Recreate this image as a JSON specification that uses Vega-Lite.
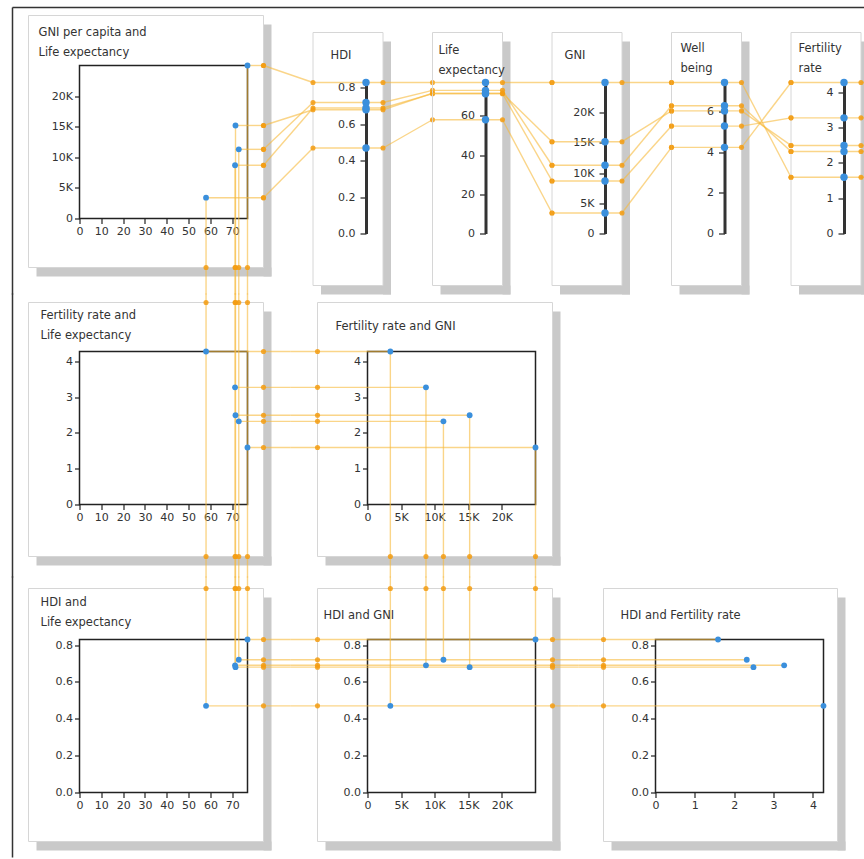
{
"$schema": "https://vega.github.io/schema/vega-lite/v6.json",
"background": "white",
"padding": {"left": 10.5, "top": 5.5, "right": 0, "bottom": 0},
"datasets": {"countries": [
 {"country": "A", "LE": 58, "GNI": 3400, "HDI": 0.47, "Fertility": 4.27, "Wellbeing": 4.25},
 {"country": "B", "LE": 71.3, "GNI": 8700, "HDI": 0.69, "Fertility": 3.27, "Wellbeing": 5.3},
 {"country": "C", "LE": 73, "GNI": 11300, "HDI": 0.72, "Fertility": 2.32, "Wellbeing": 6.3},
 {"country": "D", "LE": 71.5, "GNI": 15200, "HDI": 0.68, "Fertility": 2.49, "Wellbeing": 6.05},
 {"country": "E", "LE": 77, "GNI": 25000, "HDI": 0.83, "Fertility": 1.59, "Wellbeing": 7.45}
]},
"spacing": -5,
"bounds": "full",
"vconcat": [
{"hconcat": [
 {"width": 168, "height": 153, "view": {"stroke": "#222", "strokeWidth": 1.5},
  "title": {"text": ["GNI per capita and", "Life expectancy"], "dx": -41, "offset": -52},
  "data": {"name": "countries"},
  "layer": [
   {"data": {"values": [{}]}, "mark": {"type": "rect", "color": "#c9c9c9", "x2Offset": 8, "yOffset": 9, "y2Offset": 9, "clip": false},
    "encoding": {"x": {"datum": 84.333, "type": "quantitative", "axis": {"values": [0, 10, 20, 30, 40, 50, 60, 70], "tickCount": 8, "title": null}}, "x2": {"datum": 84.333}, "y": {"datum": 33170, "type": "quantitative", "axis": {"values": [0, 5000, 10000, 15000, 20000], "tickCount": 6, "title": null, "labelExpr": "datum.value == 0 ? '0' : format(datum.value / 1000, 'd') + 'K'"}}, "y2": {"datum": -8007}}},
   {"data": {"values": [{}]}, "mark": {"type": "rect", "color": "#c9c9c9", "xOffset": 8, "x2Offset": 8, "y2Offset": 9, "clip": false},
    "encoding": {"x": {"datum": -23.375, "type": "quantitative"}, "x2": {"datum": 84.333}, "y": {"datum": -8007, "type": "quantitative"}, "y2": {"datum": -8007}}},
   {"data": {"values": [{}]}, "mark": {"type": "rect", "filled": false, "color": "#d6d6d6", "strokeWidth": 1, "clip": false},
    "encoding": {"x": {"datum": -23.375, "type": "quantitative"}, "x2": {"datum": 84.333}, "y": {"datum": 33170, "type": "quantitative"}, "y2": {"datum": -8007}}},
   {"data": {"values": [{}]}, "mark": {"type": "rule", "color": "#333", "strokeWidth": 1.5, "clip": false},
    "encoding": {"x": {"datum": -30.708, "type": "quantitative"}, "y": {"datum": 34477, "type": "quantitative"}, "y2": {"datum": -12418}}},
   {"data": {"values": [{}]}, "mark": {"type": "rule", "color": "#333", "strokeWidth": 1.5, "clip": false},
    "encoding": {"x": {"datum": -30.708, "type": "quantitative"}, "x2": {"datum": 362.5}, "y": {"datum": 34477, "type": "quantitative"}}},
   {"mark": {"type": "rule", "color": "#f6b93b", "strokeWidth": 1.4, "opacity": 0.6, "clip": false},
    "encoding": {"x": {"field": "LE", "type": "quantitative"}, "y": {"field": "GNI", "type": "quantitative"}, "y2": {"datum": -12418}}},
   {"mark": {"type": "rule", "color": "#f6b93b", "strokeWidth": 1.4, "opacity": 0.6, "clip": false},
    "encoding": {"x": {"field": "LE", "type": "quantitative"}, "x2": {"datum": 84.333}, "y": {"field": "GNI", "type": "quantitative"}}},
   {"mark": {"type": "circle", "color": "#f39c12", "size": 26, "opacity": 0.85, "clip": false},
    "encoding": {"x": {"datum": 84.333, "type": "quantitative"}, "y": {"field": "GNI", "type": "quantitative"}}},
   {"mark": {"type": "circle", "color": "#f39c12", "size": 26, "opacity": 0.85, "clip": false},
    "encoding": {"x": {"field": "LE", "type": "quantitative"}, "y": {"datum": -8007, "type": "quantitative"}}},
   {"mark": {"type": "circle", "color": "#3a8fdc", "size": 34, "opacity": 1, "clip": false},
    "encoding": {
     "x": {"field": "LE", "type": "quantitative", "scale": {"domain": [0, 77], "nice": false}, "axis": {"values": [0, 10, 20, 30, 40, 50, 60, 70], "tickCount": 8, "title": null}},
     "y": {"field": "GNI", "type": "quantitative", "scale": {"domain": [0, 25000], "nice": false}, "axis": {"values": [0, 5000, 10000, 15000, 20000], "tickCount": 6, "title": null, "labelExpr": "datum.value == 0 ? '0' : format(datum.value / 1000, 'd') + 'K'"}}}}
  ]},
 {"width": 1, "height": 168, "data": {"name": "countries"},
  "transform": [
   {"joinaggregate": [{"op": "max", "field": "HDI", "as": "maxHDI"}, {"op": "max", "field": "LE", "as": "maxLE"}, {"op": "max", "field": "GNI", "as": "maxGNI"}]},
   {"calculate": "datum.LE / datum.maxLE * datum.maxHDI", "as": "LEinHDI"},
   {"calculate": "(15 + 153 * datum.GNI / datum.maxGNI) / 151 * datum.maxHDI", "as": "GNIinHDI"}
  ],
  "title": {"text": "HDI", "dx": -35.5, "offset": -29.5},
  "layer": [
   {"data": {"values": [{}]}, "mark": {"type": "rect", "color": "#c9c9c9", "x2Offset": 8, "yOffset": 9, "y2Offset": 9, "clip": false},
    "encoding": {"x": {"datum": 17, "type": "quantitative", "axis": null}, "x2": {"datum": 17}, "y": {"datum": 1.10484, "type": "quantitative", "axis": {"values": [0, 0.2, 0.4, 0.6, 0.8], "tickCount": 5, "format": ".1f", "title": null, "domain": true, "domainWidth": 3, "domainColor": "#333", "tickSize": 6, "labelPadding": 5}}, "y2": {"datum": -0.28583}}},
   {"data": {"values": [{}]}, "mark": {"type": "rect", "color": "#c9c9c9", "xOffset": 8, "x2Offset": 8, "y2Offset": 9, "clip": false},
    "encoding": {"x": {"datum": -53, "type": "quantitative", "axis": null}, "x2": {"datum": 17}, "y": {"datum": -0.28583, "type": "quantitative"}, "y2": {"datum": -0.28583}}},
   {"data": {"values": [{}]}, "mark": {"type": "rect", "filled": false, "color": "#d6d6d6", "strokeWidth": 1, "clip": false},
    "encoding": {"x": {"datum": -53, "type": "quantitative", "axis": null}, "x2": {"datum": 17}, "y": {"datum": 1.10484, "type": "quantitative"}, "y2": {"datum": -0.28583}}},
   {"mark": {"type": "rule", "color": "#f6b93b", "strokeWidth": 1.4, "opacity": 0.6, "clip": false},
    "encoding": {"x": {"datum": -53, "type": "quantitative", "axis": null}, "x2": {"datum": 17}, "y": {"field": "HDI", "type": "quantitative"}}},
   {"mark": {"type": "rule", "color": "#f6b93b", "strokeWidth": 1.4, "opacity": 0.6, "clip": false},
    "encoding": {"x": {"datum": 17, "type": "quantitative", "axis": null}, "x2": {"datum": 66.5}, "y": {"field": "HDI", "type": "quantitative"}, "y2": {"field": "LEinHDI"}}},
   {"mark": {"type": "rule", "color": "#f6b93b", "strokeWidth": 1.4, "opacity": 0.6, "clip": false},
    "encoding": {"x": {"datum": -102.5, "type": "quantitative", "axis": null}, "x2": {"datum": -53}, "y": {"field": "GNIinHDI", "type": "quantitative"}, "y2": {"field": "HDI"}}},
   {"mark": {"type": "circle", "color": "#f39c12", "size": 26, "opacity": 0.85, "clip": false},
    "encoding": {"x": {"datum": 17, "type": "quantitative", "axis": null}, "y": {"field": "HDI", "type": "quantitative"}}},
   {"mark": {"type": "circle", "color": "#f39c12", "size": 26, "opacity": 0.85, "clip": false},
    "encoding": {"x": {"datum": -53, "type": "quantitative", "axis": null}, "y": {"field": "HDI", "type": "quantitative"}}},
   {"mark": {"type": "circle", "color": "#f39c12", "size": 26, "opacity": 0.85, "clip": false},
    "encoding": {"x": {"datum": 66.5, "type": "quantitative", "axis": null}, "y": {"field": "LEinHDI", "type": "quantitative"}}},
   {"mark": {"type": "circle", "color": "#f39c12", "size": 26, "opacity": 0.85, "clip": false},
    "encoding": {"x": {"datum": -102.5, "type": "quantitative", "axis": null}, "y": {"field": "GNIinHDI", "type": "quantitative"}}},
   {"mark": {"type": "circle", "color": "#3a8fdc", "size": 55, "opacity": 1, "clip": false},
    "encoding": {
     "x": {"datum": 0, "type": "quantitative", "scale": {"domain": [0, 1]}, "axis": null},
     "y": {"field": "HDI", "type": "quantitative", "scale": {"domain": [0, 0.83], "range": [168, 17], "nice": false}, "axis": {"values": [0, 0.2, 0.4, 0.6, 0.8], "tickCount": 5, "format": ".1f", "title": null, "domain": true, "domainWidth": 3, "domainColor": "#333", "tickSize": 6, "labelPadding": 5}}}}
  ]},
 {"width": 1, "height": 168, "data": {"name": "countries"},
  "transform": [
   {"joinaggregate": [{"op": "max", "field": "LE", "as": "maxLE"}, {"op": "max", "field": "GNI", "as": "maxGNI"}]},
   {"calculate": "datum.GNI / datum.maxGNI * datum.maxLE", "as": "GNIinLE"}
  ],
  "title": {"text": ["Life", "expectancy"], "dx": -47, "offset": -44.5},
  "layer": [
   {"data": {"values": [{}]}, "mark": {"type": "rect", "color": "#c9c9c9", "x2Offset": 8, "yOffset": 9, "y2Offset": 9, "clip": false},
    "encoding": {"x": {"datum": 17, "type": "quantitative", "axis": null}, "x2": {"datum": 17}, "y": {"datum": 102.497, "type": "quantitative", "axis": {"values": [0, 20, 40, 60], "tickCount": 4, "title": null, "domain": true, "domainWidth": 3, "domainColor": "#333", "tickSize": 6, "labelPadding": 5}}, "y2": {"datum": -26.517}}},
   {"data": {"values": [{}]}, "mark": {"type": "rect", "color": "#c9c9c9", "xOffset": 8, "x2Offset": 8, "y2Offset": 9, "clip": false},
    "encoding": {"x": {"datum": -53, "type": "quantitative", "axis": null}, "x2": {"datum": 17}, "y": {"datum": -26.517, "type": "quantitative"}, "y2": {"datum": -26.517}}},
   {"data": {"values": [{}]}, "mark": {"type": "rect", "filled": false, "color": "#d6d6d6", "strokeWidth": 1, "clip": false},
    "encoding": {"x": {"datum": -53, "type": "quantitative", "axis": null}, "x2": {"datum": 17}, "y": {"datum": 102.497, "type": "quantitative"}, "y2": {"datum": -26.517}}},
   {"mark": {"type": "rule", "color": "#f6b93b", "strokeWidth": 1.4, "opacity": 0.6, "clip": false},
    "encoding": {"x": {"datum": -53, "type": "quantitative", "axis": null}, "x2": {"datum": 17}, "y": {"field": "LE", "type": "quantitative"}}},
   {"mark": {"type": "rule", "color": "#f6b93b", "strokeWidth": 1.4, "opacity": 0.6, "clip": false},
    "encoding": {"x": {"datum": 17, "type": "quantitative", "axis": null}, "x2": {"datum": 66.5}, "y": {"field": "LE", "type": "quantitative"}, "y2": {"field": "GNIinLE"}}},
   {"mark": {"type": "circle", "color": "#f39c12", "size": 26, "opacity": 0.85, "clip": false},
    "encoding": {"x": {"datum": 17, "type": "quantitative", "axis": null}, "y": {"field": "LE", "type": "quantitative"}}},
   {"mark": {"type": "circle", "color": "#f39c12", "size": 26, "opacity": 0.85, "clip": false},
    "encoding": {"x": {"datum": 66.5, "type": "quantitative", "axis": null}, "y": {"field": "GNIinLE", "type": "quantitative"}}},
   {"mark": {"type": "circle", "color": "#3a8fdc", "size": 55, "opacity": 1, "clip": false},
    "encoding": {
     "x": {"datum": 0, "type": "quantitative", "scale": {"domain": [0, 1]}, "axis": null},
     "y": {"field": "LE", "type": "quantitative", "scale": {"domain": [0, 77], "range": [168, 17], "nice": false}, "axis": {"values": [0, 20, 40, 60], "tickCount": 4, "title": null, "domain": true, "domainWidth": 3, "domainColor": "#333", "tickSize": 6, "labelPadding": 5}}}}
  ]},
 {"width": 1, "height": 168, "data": {"name": "countries"},
  "transform": [
   {"joinaggregate": [{"op": "max", "field": "GNI", "as": "maxGNI"}, {"op": "max", "field": "Wellbeing", "as": "maxWB"}]},
   {"calculate": "datum.Wellbeing / datum.maxWB * datum.maxGNI", "as": "WBinGNI"}
  ],
  "title": {"text": "GNI", "dx": -40.5, "offset": -29.5},
  "layer": [
   {"data": {"values": [{}]}, "mark": {"type": "rect", "color": "#c9c9c9", "x2Offset": 8, "yOffset": 9, "y2Offset": 9, "clip": false},
    "encoding": {"x": {"datum": 17, "type": "quantitative", "axis": null}, "x2": {"datum": 17}, "y": {"datum": 33278, "type": "quantitative", "axis": {"values": [0, 5000, 10000, 15000, 20000], "tickCount": 6, "labelExpr": "datum.value == 0 ? '0' : format(datum.value / 1000, 'd') + 'K'", "title": null, "domain": true, "domainWidth": 3, "domainColor": "#333", "tickSize": 6, "labelPadding": 5}}, "y2": {"datum": -8609}}},
   {"data": {"values": [{}]}, "mark": {"type": "rect", "color": "#c9c9c9", "xOffset": 8, "x2Offset": 8, "y2Offset": 9, "clip": false},
    "encoding": {"x": {"datum": -53, "type": "quantitative", "axis": null}, "x2": {"datum": 17}, "y": {"datum": -8609, "type": "quantitative"}, "y2": {"datum": -8609}}},
   {"data": {"values": [{}]}, "mark": {"type": "rect", "filled": false, "color": "#d6d6d6", "strokeWidth": 1, "clip": false},
    "encoding": {"x": {"datum": -53, "type": "quantitative", "axis": null}, "x2": {"datum": 17}, "y": {"datum": 33278, "type": "quantitative"}, "y2": {"datum": -8609}}},
   {"mark": {"type": "rule", "color": "#f6b93b", "strokeWidth": 1.4, "opacity": 0.6, "clip": false},
    "encoding": {"x": {"datum": -53, "type": "quantitative", "axis": null}, "x2": {"datum": 17}, "y": {"field": "GNI", "type": "quantitative"}}},
   {"mark": {"type": "rule", "color": "#f6b93b", "strokeWidth": 1.4, "opacity": 0.6, "clip": false},
    "encoding": {"x": {"datum": 17, "type": "quantitative", "axis": null}, "x2": {"datum": 66.5}, "y": {"field": "GNI", "type": "quantitative"}, "y2": {"field": "WBinGNI"}}},
   {"mark": {"type": "circle", "color": "#f39c12", "size": 26, "opacity": 0.85, "clip": false},
    "encoding": {"x": {"datum": 17, "type": "quantitative", "axis": null}, "y": {"field": "GNI", "type": "quantitative"}}},
   {"mark": {"type": "circle", "color": "#f39c12", "size": 26, "opacity": 0.85, "clip": false},
    "encoding": {"x": {"datum": -53, "type": "quantitative", "axis": null}, "y": {"field": "GNI", "type": "quantitative"}}},
   {"mark": {"type": "circle", "color": "#f39c12", "size": 26, "opacity": 0.85, "clip": false},
    "encoding": {"x": {"datum": 66.5, "type": "quantitative", "axis": null}, "y": {"field": "WBinGNI", "type": "quantitative"}}},
   {"mark": {"type": "circle", "color": "#3a8fdc", "size": 55, "opacity": 1, "clip": false},
    "encoding": {
     "x": {"datum": 0, "type": "quantitative", "scale": {"domain": [0, 1]}, "axis": null},
     "y": {"field": "GNI", "type": "quantitative", "scale": {"domain": [0, 25000], "range": [168, 17], "nice": false}, "axis": {"values": [0, 5000, 10000, 15000, 20000], "tickCount": 6, "labelExpr": "datum.value == 0 ? '0' : format(datum.value / 1000, 'd') + 'K'", "title": null, "domain": true, "domainWidth": 3, "domainColor": "#333", "tickSize": 6, "labelPadding": 5}}}}
  ]},
 {"width": 1, "height": 168, "data": {"name": "countries"},
  "transform": [
   {"joinaggregate": [{"op": "max", "field": "Wellbeing", "as": "maxWB"}, {"op": "max", "field": "Fertility", "as": "maxFert"}]},
   {"calculate": "datum.Fertility / datum.maxFert * datum.maxWB", "as": "FertinWB"}
  ],
  "title": {"text": ["Well", "being"], "dx": -44, "offset": -42.5},
  "layer": [
   {"data": {"values": [{}]}, "mark": {"type": "rect", "color": "#c9c9c9", "x2Offset": 8, "yOffset": 9, "y2Offset": 9, "clip": false},
    "encoding": {"x": {"datum": 17, "type": "quantitative", "axis": null}, "x2": {"datum": 17}, "y": {"datum": 9.917, "type": "quantitative", "axis": {"values": [0, 2, 4, 6], "tickCount": 4, "title": null, "domain": true, "domainWidth": 3, "domainColor": "#333", "tickSize": 6, "labelPadding": 5}}, "y2": {"datum": -2.5656}}},
   {"data": {"values": [{}]}, "mark": {"type": "rect", "color": "#c9c9c9", "xOffset": 8, "x2Offset": 8, "y2Offset": 9, "clip": false},
    "encoding": {"x": {"datum": -53, "type": "quantitative", "axis": null}, "x2": {"datum": 17}, "y": {"datum": -2.5656, "type": "quantitative"}, "y2": {"datum": -2.5656}}},
   {"data": {"values": [{}]}, "mark": {"type": "rect", "filled": false, "color": "#d6d6d6", "strokeWidth": 1, "clip": false},
    "encoding": {"x": {"datum": -53, "type": "quantitative", "axis": null}, "x2": {"datum": 17}, "y": {"datum": 9.917, "type": "quantitative"}, "y2": {"datum": -2.5656}}},
   {"mark": {"type": "rule", "color": "#f6b93b", "strokeWidth": 1.4, "opacity": 0.6, "clip": false},
    "encoding": {"x": {"datum": -53, "type": "quantitative", "axis": null}, "x2": {"datum": 17}, "y": {"field": "Wellbeing", "type": "quantitative"}}},
   {"mark": {"type": "rule", "color": "#f6b93b", "strokeWidth": 1.4, "opacity": 0.6, "clip": false},
    "encoding": {"x": {"datum": 17, "type": "quantitative", "axis": null}, "x2": {"datum": 66.5}, "y": {"field": "Wellbeing", "type": "quantitative"}, "y2": {"field": "FertinWB"}}},
   {"mark": {"type": "circle", "color": "#f39c12", "size": 26, "opacity": 0.85, "clip": false},
    "encoding": {"x": {"datum": 17, "type": "quantitative", "axis": null}, "y": {"field": "Wellbeing", "type": "quantitative"}}},
   {"mark": {"type": "circle", "color": "#f39c12", "size": 26, "opacity": 0.85, "clip": false},
    "encoding": {"x": {"datum": -53, "type": "quantitative", "axis": null}, "y": {"field": "Wellbeing", "type": "quantitative"}}},
   {"mark": {"type": "circle", "color": "#f39c12", "size": 26, "opacity": 0.85, "clip": false},
    "encoding": {"x": {"datum": 66.5, "type": "quantitative", "axis": null}, "y": {"field": "FertinWB", "type": "quantitative"}}},
   {"mark": {"type": "circle", "color": "#3a8fdc", "size": 55, "opacity": 1, "clip": false},
    "encoding": {
     "x": {"datum": 0, "type": "quantitative", "scale": {"domain": [0, 1]}, "axis": null},
     "y": {"field": "Wellbeing", "type": "quantitative", "scale": {"domain": [0, 7.45], "range": [168, 17], "nice": false}, "axis": {"values": [0, 2, 4, 6], "tickCount": 4, "title": null, "domain": true, "domainWidth": 3, "domainColor": "#333", "tickSize": 6, "labelPadding": 5}}}}
  ]},
 {"width": 1, "height": 168, "data": {"name": "countries"},
  "title": {"text": ["Fertility", "rate"], "dx": -45.5, "offset": -42.5},
  "layer": [
   {"data": {"values": [{}]}, "mark": {"type": "rect", "color": "#c9c9c9", "x2Offset": 8, "yOffset": 9, "y2Offset": 9, "clip": false},
    "encoding": {"x": {"datum": 17, "type": "quantitative", "axis": null}, "x2": {"datum": 17}, "y": {"datum": 5.6839, "type": "quantitative", "axis": {"values": [0, 1, 2, 3, 4], "tickCount": 5, "title": null, "domain": true, "domainWidth": 3, "domainColor": "#333", "tickSize": 6, "labelPadding": 5}}, "y2": {"datum": -1.4705}}},
   {"data": {"values": [{}]}, "mark": {"type": "rect", "color": "#c9c9c9", "xOffset": 8, "x2Offset": 8, "y2Offset": 9, "clip": false},
    "encoding": {"x": {"datum": -53, "type": "quantitative", "axis": null}, "x2": {"datum": 17}, "y": {"datum": -1.4705, "type": "quantitative"}, "y2": {"datum": -1.4705}}},
   {"data": {"values": [{}]}, "mark": {"type": "rect", "filled": false, "color": "#d6d6d6", "strokeWidth": 1, "clip": false},
    "encoding": {"x": {"datum": -53, "type": "quantitative", "axis": null}, "x2": {"datum": 17}, "y": {"datum": 5.6839, "type": "quantitative"}, "y2": {"datum": -1.4705}}},
   {"mark": {"type": "rule", "color": "#f6b93b", "strokeWidth": 1.4, "opacity": 0.6, "clip": false},
    "encoding": {"x": {"datum": -53, "type": "quantitative", "axis": null}, "x2": {"datum": 40}, "y": {"field": "Fertility", "type": "quantitative"}}},
   {"mark": {"type": "circle", "color": "#f39c12", "size": 26, "opacity": 0.85, "clip": false},
    "encoding": {"x": {"datum": 17, "type": "quantitative", "axis": null}, "y": {"field": "Fertility", "type": "quantitative"}}},
   {"mark": {"type": "circle", "color": "#f39c12", "size": 26, "opacity": 0.85, "clip": false},
    "encoding": {"x": {"datum": -53, "type": "quantitative", "axis": null}, "y": {"field": "Fertility", "type": "quantitative"}}},
   {"mark": {"type": "circle", "color": "#3a8fdc", "size": 55, "opacity": 1, "clip": false},
    "encoding": {
     "x": {"datum": 0, "type": "quantitative", "scale": {"domain": [0, 1]}, "axis": null},
     "y": {"field": "Fertility", "type": "quantitative", "scale": {"domain": [0, 4.27], "range": [168, 17], "nice": false}, "axis": {"values": [0, 1, 2, 3, 4], "tickCount": 5, "title": null, "domain": true, "domainWidth": 3, "domainColor": "#333", "tickSize": 6, "labelPadding": 5}}}}
  ]}
], "spacing": 118.5, "bounds": "flush"},
{"hconcat": [
 {"width": 168, "height": 153, "view": {"stroke": "#222", "strokeWidth": 1.5},
  "title": {"text": ["Fertility rate and", "Life expectancy"], "dx": -39, "offset": -48.7},
  "data": {"name": "countries"},
  "layer": [
   {"data": {"values": [{}]}, "mark": {"type": "rect", "color": "#c9c9c9", "x2Offset": 8, "yOffset": 9, "y2Offset": 9, "clip": false},
    "encoding": {"x": {"datum": 84.333, "type": "quantitative", "axis": {"values": [0, 10, 20, 30, 40, 50, 60, 70], "tickCount": 8, "title": null}}, "x2": {"datum": 84.333}, "y": {"datum": 5.6375, "type": "quantitative", "axis": {"values": [0, 1, 2, 3, 4], "tickCount": 5, "title": null}}, "y2": {"datum": -1.4512}}},
   {"data": {"values": [{}]}, "mark": {"type": "rect", "color": "#c9c9c9", "xOffset": 8, "x2Offset": 8, "y2Offset": 9, "clip": false},
    "encoding": {"x": {"datum": -23.375, "type": "quantitative"}, "x2": {"datum": 84.333}, "y": {"datum": -1.4512, "type": "quantitative"}, "y2": {"datum": -1.4512}}},
   {"data": {"values": [{}]}, "mark": {"type": "rect", "filled": false, "color": "#d6d6d6", "strokeWidth": 1, "clip": false},
    "encoding": {"x": {"datum": -23.375, "type": "quantitative"}, "x2": {"datum": 84.333}, "y": {"datum": 5.6375, "type": "quantitative"}, "y2": {"datum": -1.4512}}},
   {"data": {"values": [{}]}, "mark": {"type": "rule", "color": "#333", "strokeWidth": 1.5, "clip": false},
    "encoding": {"x": {"datum": -30.708, "type": "quantitative"}, "y": {"datum": 5.8887, "type": "quantitative"}, "y2": {"datum": -2.0373}}},
   {"mark": {"type": "rule", "color": "#f6b93b", "strokeWidth": 1.4, "opacity": 0.6, "clip": false},
    "encoding": {"x": {"field": "LE", "type": "quantitative"}, "y": {"datum": 5.8887, "type": "quantitative"}, "y2": {"datum": -2.0373}}},
   {"mark": {"type": "rule", "color": "#f6b93b", "strokeWidth": 1.4, "opacity": 0.6, "clip": false},
    "encoding": {"x": {"field": "LE", "type": "quantitative"}, "x2": {"datum": 96.708}, "y": {"field": "Fertility", "type": "quantitative"}}},
   {"mark": {"type": "circle", "color": "#f39c12", "size": 26, "opacity": 0.85, "clip": false},
    "encoding": {"x": {"datum": 84.333, "type": "quantitative"}, "y": {"field": "Fertility", "type": "quantitative"}}},
   {"mark": {"type": "circle", "color": "#f39c12", "size": 26, "opacity": 0.85, "clip": false},
    "encoding": {"x": {"field": "LE", "type": "quantitative"}, "y": {"datum": 5.6375, "type": "quantitative"}}},
   {"mark": {"type": "circle", "color": "#f39c12", "size": 26, "opacity": 0.85, "clip": false},
    "encoding": {"x": {"field": "LE", "type": "quantitative"}, "y": {"datum": -1.4512, "type": "quantitative"}}},
   {"mark": {"type": "circle", "color": "#3a8fdc", "size": 34, "opacity": 1, "clip": false},
    "encoding": {
     "x": {"field": "LE", "type": "quantitative", "scale": {"domain": [0, 77], "nice": false}, "axis": {"values": [0, 10, 20, 30, 40, 50, 60, 70], "tickCount": 8, "title": null}},
     "y": {"field": "Fertility", "type": "quantitative", "scale": {"domain": [0, 4.27], "nice": false}, "axis": {"values": [0, 1, 2, 3, 4], "tickCount": 5, "title": null}}}}
  ]},
 {"width": 168, "height": 153, "view": {"stroke": "#222", "strokeWidth": 1.5},
  "title": {"text": "Fertility rate and GNI", "dx": -32, "offset": -30.5},
  "data": {"name": "countries"},
  "layer": [
   {"data": {"values": [{}]}, "mark": {"type": "rect", "color": "#c9c9c9", "x2Offset": 8, "yOffset": 9, "y2Offset": 9, "clip": false},
    "encoding": {"x": {"datum": 27530, "type": "quantitative", "axis": {"values": [0, 5000, 10000, 15000, 20000], "tickCount": 6, "labelExpr": "datum.value == 0 ? '0' : format(datum.value / 1000, 'd') + 'K'", "title": null}}, "x2": {"datum": 27530}, "y": {"datum": 5.6375, "type": "quantitative", "axis": {"values": [0, 1, 2, 3, 4], "tickCount": 5, "title": null}}, "y2": {"datum": -1.4512}}},
   {"data": {"values": [{}]}, "mark": {"type": "rect", "color": "#c9c9c9", "xOffset": 8, "x2Offset": 8, "y2Offset": 9, "clip": false},
    "encoding": {"x": {"datum": -7440.5, "type": "quantitative"}, "x2": {"datum": 27530}, "y": {"datum": -1.4512, "type": "quantitative"}, "y2": {"datum": -1.4512}}},
   {"data": {"values": [{}]}, "mark": {"type": "rect", "filled": false, "color": "#d6d6d6", "strokeWidth": 1, "clip": false},
    "encoding": {"x": {"datum": -7440.5, "type": "quantitative"}, "x2": {"datum": 27530}, "y": {"datum": 5.6375, "type": "quantitative"}, "y2": {"datum": -1.4512}}},
   {"mark": {"type": "rule", "color": "#f6b93b", "strokeWidth": 1.4, "opacity": 0.6, "clip": false},
    "encoding": {"x": {"field": "GNI", "type": "quantitative"}, "x2": {"datum": -11458}, "y": {"field": "Fertility", "type": "quantitative"}}},
   {"mark": {"type": "rule", "color": "#f6b93b", "strokeWidth": 1.4, "opacity": 0.6, "clip": false},
    "encoding": {"x": {"field": "GNI", "type": "quantitative"}, "y": {"field": "Fertility", "type": "quantitative"}, "y2": {"datum": -2.0373}}},
   {"mark": {"type": "circle", "color": "#f39c12", "size": 26, "opacity": 0.85, "clip": false},
    "encoding": {"x": {"datum": -7440.5, "type": "quantitative"}, "y": {"field": "Fertility", "type": "quantitative"}}},
   {"mark": {"type": "circle", "color": "#f39c12", "size": 26, "opacity": 0.85, "clip": false},
    "encoding": {"x": {"field": "GNI", "type": "quantitative"}, "y": {"datum": -1.4512, "type": "quantitative"}}},
   {"mark": {"type": "circle", "color": "#3a8fdc", "size": 34, "opacity": 1, "clip": false},
    "encoding": {
     "x": {"field": "GNI", "type": "quantitative", "scale": {"domain": [0, 25000], "nice": false}, "axis": {"values": [0, 5000, 10000, 15000, 20000], "tickCount": 6, "labelExpr": "datum.value == 0 ? '0' : format(datum.value / 1000, 'd') + 'K'", "title": null}},
     "y": {"field": "Fertility", "type": "quantitative", "scale": {"domain": [0, 4.27], "nice": false}, "axis": {"values": [0, 1, 2, 3, 4], "tickCount": 5, "title": null}}}}
  ]}
], "spacing": 120, "bounds": "flush"},
{"hconcat": [
 {"width": 168, "height": 153, "view": {"stroke": "#222", "strokeWidth": 1.5},
  "title": {"text": ["HDI and", "Life expectancy"], "dx": -39, "offset": -52.7},
  "data": {"name": "countries"},
  "layer": [
   {"data": {"values": [{}]}, "mark": {"type": "rect", "color": "#c9c9c9", "x2Offset": 8, "yOffset": 9, "y2Offset": 9, "clip": false},
    "encoding": {"x": {"datum": 84.333, "type": "quantitative", "axis": {"values": [0, 10, 20, 30, 40, 50, 60, 70], "tickCount": 8, "title": null}}, "x2": {"datum": 84.333}, "y": {"datum": 1.10667, "type": "quantitative", "axis": {"values": [0, 0.2, 0.4, 0.6, 0.8], "tickCount": 5, "format": ".1f", "title": null}}, "y2": {"datum": -0.26582}}},
   {"data": {"values": [{}]}, "mark": {"type": "rect", "color": "#c9c9c9", "xOffset": 8, "x2Offset": 8, "y2Offset": 9, "clip": false},
    "encoding": {"x": {"datum": -23.375, "type": "quantitative"}, "x2": {"datum": 84.333}, "y": {"datum": -0.26582, "type": "quantitative"}, "y2": {"datum": -0.26582}}},
   {"data": {"values": [{}]}, "mark": {"type": "rect", "filled": false, "color": "#d6d6d6", "strokeWidth": 1, "clip": false},
    "encoding": {"x": {"datum": -23.375, "type": "quantitative"}, "x2": {"datum": 84.333}, "y": {"datum": 1.10667, "type": "quantitative"}, "y2": {"datum": -0.26582}}},
   {"data": {"values": [{}]}, "mark": {"type": "rule", "color": "#333", "strokeWidth": 1.5, "clip": false},
    "encoding": {"x": {"datum": -30.708, "type": "quantitative"}, "y": {"datum": 1.17177, "type": "quantitative"}, "y2": {"datum": -0.35262}}},
   {"mark": {"type": "rule", "color": "#f6b93b", "strokeWidth": 1.4, "opacity": 0.6, "clip": false},
    "encoding": {"x": {"field": "LE", "type": "quantitative"}, "y": {"field": "HDI", "type": "quantitative"}, "y2": {"datum": 1.17177}}},
   {"mark": {"type": "rule", "color": "#f6b93b", "strokeWidth": 1.4, "opacity": 0.6, "clip": false},
    "encoding": {"x": {"field": "LE", "type": "quantitative"}, "x2": {"datum": 96.708}, "y": {"field": "HDI", "type": "quantitative"}}},
   {"mark": {"type": "circle", "color": "#f39c12", "size": 26, "opacity": 0.85, "clip": false},
    "encoding": {"x": {"field": "LE", "type": "quantitative"}, "y": {"datum": 1.10667, "type": "quantitative"}}},
   {"mark": {"type": "circle", "color": "#f39c12", "size": 26, "opacity": 0.85, "clip": false},
    "encoding": {"x": {"datum": 84.333, "type": "quantitative"}, "y": {"field": "HDI", "type": "quantitative"}}},
   {"mark": {"type": "circle", "color": "#3a8fdc", "size": 34, "opacity": 1, "clip": false},
    "encoding": {
     "x": {"field": "LE", "type": "quantitative", "scale": {"domain": [0, 77], "nice": false}, "axis": {"values": [0, 10, 20, 30, 40, 50, 60, 70], "tickCount": 8, "title": null}},
     "y": {"field": "HDI", "type": "quantitative", "scale": {"domain": [0, 0.83], "nice": false}, "axis": {"values": [0, 0.2, 0.4, 0.6, 0.8], "tickCount": 5, "format": ".1f", "title": null}}}}
  ]},
 {"width": 168, "height": 153, "view": {"stroke": "#222", "strokeWidth": 1.5},
  "title": {"text": "HDI and GNI", "dx": -44, "offset": -45.7},
  "data": {"name": "countries"},
  "layer": [
   {"data": {"values": [{}]}, "mark": {"type": "rect", "color": "#c9c9c9", "x2Offset": 8, "yOffset": 9, "y2Offset": 9, "clip": false},
    "encoding": {"x": {"datum": 27530, "type": "quantitative", "axis": {"values": [0, 5000, 10000, 15000, 20000], "tickCount": 6, "labelExpr": "datum.value == 0 ? '0' : format(datum.value / 1000, 'd') + 'K'", "title": null}}, "x2": {"datum": 27530}, "y": {"datum": 1.10667, "type": "quantitative", "axis": {"values": [0, 0.2, 0.4, 0.6, 0.8], "tickCount": 5, "format": ".1f", "title": null}}, "y2": {"datum": -0.26582}}},
   {"data": {"values": [{}]}, "mark": {"type": "rect", "color": "#c9c9c9", "xOffset": 8, "x2Offset": 8, "y2Offset": 9, "clip": false},
    "encoding": {"x": {"datum": -7440.5, "type": "quantitative"}, "x2": {"datum": 27530}, "y": {"datum": -0.26582, "type": "quantitative"}, "y2": {"datum": -0.26582}}},
   {"data": {"values": [{}]}, "mark": {"type": "rect", "filled": false, "color": "#d6d6d6", "strokeWidth": 1, "clip": false},
    "encoding": {"x": {"datum": -7440.5, "type": "quantitative"}, "x2": {"datum": 27530}, "y": {"datum": 1.10667, "type": "quantitative"}, "y2": {"datum": -0.26582}}},
   {"mark": {"type": "rule", "color": "#f6b93b", "strokeWidth": 1.4, "opacity": 0.6, "clip": false},
    "encoding": {"x": {"field": "GNI", "type": "quantitative"}, "y": {"field": "HDI", "type": "quantitative"}, "y2": {"datum": 1.17177}}},
   {"mark": {"type": "rule", "color": "#f6b93b", "strokeWidth": 1.4, "opacity": 0.6, "clip": false},
    "encoding": {"x": {"datum": -11458, "type": "quantitative"}, "x2": {"datum": 31399}, "y": {"field": "HDI", "type": "quantitative"}}},
   {"mark": {"type": "circle", "color": "#f39c12", "size": 26, "opacity": 0.85, "clip": false},
    "encoding": {"x": {"field": "GNI", "type": "quantitative"}, "y": {"datum": 1.10667, "type": "quantitative"}}},
   {"mark": {"type": "circle", "color": "#f39c12", "size": 26, "opacity": 0.85, "clip": false},
    "encoding": {"x": {"datum": -7440.5, "type": "quantitative"}, "y": {"field": "HDI", "type": "quantitative"}}},
   {"mark": {"type": "circle", "color": "#f39c12", "size": 26, "opacity": 0.85, "clip": false},
    "encoding": {"x": {"datum": 27530, "type": "quantitative"}, "y": {"field": "HDI", "type": "quantitative"}}},
   {"mark": {"type": "circle", "color": "#3a8fdc", "size": 34, "opacity": 1, "clip": false},
    "encoding": {
     "x": {"field": "GNI", "type": "quantitative", "scale": {"domain": [0, 25000], "nice": false}, "axis": {"values": [0, 5000, 10000, 15000, 20000], "tickCount": 6, "labelExpr": "datum.value == 0 ? '0' : format(datum.value / 1000, 'd') + 'K'", "title": null}},
     "y": {"field": "HDI", "type": "quantitative", "scale": {"domain": [0, 0.83], "nice": false}, "axis": {"values": [0, 0.2, 0.4, 0.6, 0.8], "tickCount": 5, "format": ".1f", "title": null}}}}
  ]},
 {"width": 168, "height": 153, "view": {"stroke": "#222", "strokeWidth": 1.5},
  "title": {"text": "HDI and Fertility rate", "dx": -35, "offset": -33.5},
  "data": {"name": "countries"},
  "layer": [
   {"data": {"values": [{}]}, "mark": {"type": "rect", "color": "#c9c9c9", "x2Offset": 8, "yOffset": 9, "y2Offset": 9, "clip": false},
    "encoding": {"x": {"datum": 4.62583, "type": "quantitative", "axis": {"values": [0, 1, 2, 3, 4], "tickCount": 5, "title": null}}, "x2": {"datum": 4.62583}, "y": {"datum": 1.10667, "type": "quantitative", "axis": {"values": [0, 0.2, 0.4, 0.6, 0.8], "tickCount": 5, "format": ".1f", "title": null}}, "y2": {"datum": -0.26582}}},
   {"data": {"values": [{}]}, "mark": {"type": "rect", "color": "#c9c9c9", "xOffset": 8, "x2Offset": 8, "y2Offset": 9, "clip": false},
    "encoding": {"x": {"datum": -1.32167, "type": "quantitative"}, "x2": {"datum": 4.62583}, "y": {"datum": -0.26582, "type": "quantitative"}, "y2": {"datum": -0.26582}}},
   {"data": {"values": [{}]}, "mark": {"type": "rect", "filled": false, "color": "#d6d6d6", "strokeWidth": 1, "clip": false},
    "encoding": {"x": {"datum": -1.32167, "type": "quantitative"}, "x2": {"datum": 4.62583}, "y": {"datum": 1.10667, "type": "quantitative"}, "y2": {"datum": -0.26582}}},
   {"mark": {"type": "rule", "color": "#f6b93b", "strokeWidth": 1.4, "opacity": 0.6, "clip": false},
    "encoding": {"x": {"field": "Fertility", "type": "quantitative"}, "x2": {"datum": -1.95708}, "y": {"field": "HDI", "type": "quantitative"}}},
   {"mark": {"type": "circle", "color": "#f39c12", "size": 26, "opacity": 0.85, "clip": false},
    "encoding": {"x": {"datum": -1.32167, "type": "quantitative"}, "y": {"field": "HDI", "type": "quantitative"}}},
   {"mark": {"type": "circle", "color": "#3a8fdc", "size": 34, "opacity": 1, "clip": false},
    "encoding": {
     "x": {"field": "Fertility", "type": "quantitative", "scale": {"domain": [0, 4.27], "nice": false}, "axis": {"values": [0, 1, 2, 3, 4], "tickCount": 5, "title": null}},
     "y": {"field": "HDI", "type": "quantitative", "scale": {"domain": [0, 0.83], "nice": false}, "axis": {"values": [0, 0.2, 0.4, 0.6, 0.8], "tickCount": 5, "format": ".1f", "title": null}}}}
  ]}
], "spacing": 120, "bounds": "flush"}
],
"config": {
 "view": {"stroke": null},
 "axis": {"labelFont": "DejaVu Sans", "labelFontSize": 11, "labelColor": "#333", "tickColor": "#222", "tickSize": 5, "tickWidth": 1.2, "domain": false, "grid": false, "labelPadding": 2, "labelOverlap": false, "labelFlush": false},
 "title": {"anchor": "start", "frame": "group", "baseline": "top", "lineHeight": 20, "fontSize": 11.5, "fontWeight": "normal", "color": "#333", "font": "DejaVu Sans"}
}
}
